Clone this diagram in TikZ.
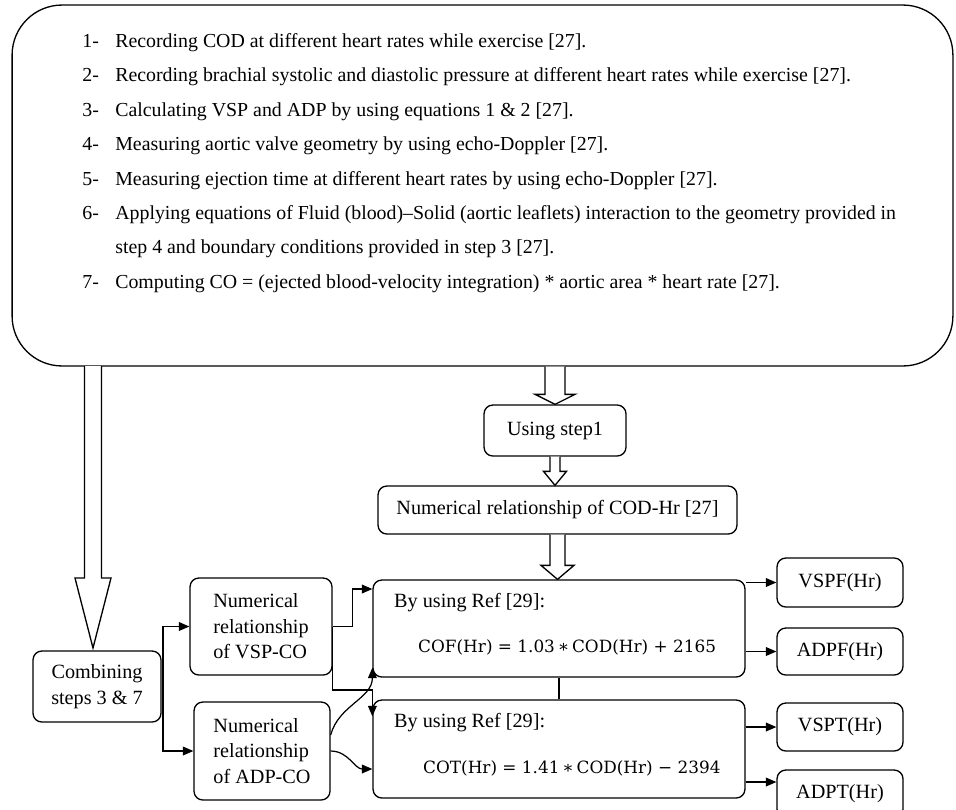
\documentclass[tikz,border=0pt]{standalone}
\usepackage{fontspec}
\setmainfont{Liberation Serif}
\newfontfamily\eqfont{DejaVu Serif}
\usetikzlibrary{arrows.meta,calc}

% hollow block arrow: start, tip, shaft half width, head half width, head length
\newcommand{\hollowarrow}[5]{%
  \draw[line width=0.75pt, fill=white]
    ($#1+(-#3,0)$) -- ($#2+(-#3,-#5)$) -- ($#2+(-#4,-#5)$) -- #2
    -- ($#2+(#4,-#5)$) -- ($#2+(#3,-#5)$) -- ($#1+(#3,0)$);}

\begin{document}
\begin{tikzpicture}[x=0.02cm, y=-0.02cm,
    box/.style={draw, line width=0.75pt, rounded corners=5pt, align=center,
      font=\fontsize{11.5}{14.5}\selectfont},
    arr/.style={-{Triangle[length=6pt,width=5pt]}, line width=0.7pt}]
  \useasboundingbox (0,0) rectangle (956,809);

  % the seven steps
  \node[draw, line width=0.75pt, rounded corners=1cm, minimum width=18.82cm,
    minimum height=7.22cm] (steps) at (482.5,185.5) {};
  \node[anchor=north west, inner sep=0, align=left,
    font=\fontsize{11.3}{19.6}\selectfont] (list) at (82,33) {%
    \makebox[0.66cm][l]{1-}Recording COD at different heart rates while exercise [27].\\
    \makebox[0.66cm][l]{2-}Recording brachial systolic and diastolic pressure at different heart rates while exercise [27].\\
    \makebox[0.66cm][l]{3-}Calculating VSP and ADP by using equations 1 \& 2 [27].\\
    \makebox[0.66cm][l]{4-}Measuring aortic valve geometry by using echo-Doppler [27].\\
    \makebox[0.66cm][l]{5-}Measuring ejection time at different heart rates by using echo-Doppler [27].\\
    \makebox[0.66cm][l]{6-}Applying equations of Fluid (blood)--Solid (aortic leaflets) interaction to the geometry provided in\\
    \hspace*{0.66cm}step 4 and boundary conditions provided in step 3 [27].\\
    \makebox[0.66cm][l]{7-}Computing CO = (ejected blood-velocity integration) * aortic area * heart rate [27].};

  % middle column
  \node[box, minimum width=2.84cm, minimum height=1.02cm] (use) at (555,430.5) {Using step1};
  \node[box, minimum width=7.18cm, minimum height=0.96cm] (cod) at (557.5,510) {Numerical relationship of COD-Hr [27]};
  \node[box, minimum width=7.44cm, minimum height=1.94cm] (boxF) at (559,628.5) {};
  \node[box, minimum width=7.44cm, minimum height=1.96cm] (boxT) at (559,749) {};
  \node[anchor=west, font=\fontsize{11.5}{14}\selectfont] (fref) at (388,603) {By using Ref [29]:};
  \node[anchor=west, font=\eqfont\fontsize{9.6}{11}\selectfont] (feq) at (412,647)
    {COF(Hr)\ =\ 1.03\,∗\,COD(Hr)\ +\ 2165};
  \node[anchor=west, font=\fontsize{11.5}{14}\selectfont] (tref) at (388,723) {By using Ref [29]:};
  \node[anchor=west, font=\eqfont\fontsize{9.6}{11}\selectfont] (teq) at (417,768)
    {COT(Hr)\ =\ 1.41\,∗\,COD(Hr)\ −\ 2394};

  % left column
  \node[box, minimum width=2.56cm, minimum height=1.42cm] (comb) at (97,686.5) {Combining\\steps 3 \& 7};
  \node[box, align=left, minimum width=2.84cm, minimum height=1.94cm] (vsp) at (261,626.5) {Numerical\\relationship\\of VSP-CO};
  \node[box, align=left, minimum width=2.72cm, minimum height=1.96cm] (adp) at (262,751) {Numerical\\relationship\\of ADP-CO};

  % outputs
  \node[box, minimum width=2.52cm, minimum height=0.98cm] (vspf) at (840,582.5) {VSPF(Hr)};
  \node[box, minimum width=2.52cm, minimum height=0.94cm] (adpf) at (840,651.5) {ADPF(Hr)};
  \node[box, minimum width=2.52cm, minimum height=0.96cm] (vspt) at (840,727) {VSPT(Hr)};
  \node[box, minimum width=2.52cm, minimum height=0.96cm] (adpt) at (840,794) {ADPT(Hr)};

  % block arrows
  \hollowarrow{(use.north |- steps.south)}{(use.north)}{10}{20}{10}
  \hollowarrow{(use.south)}{(use.south |- cod.north)}{5}{11.5}{14}
  \hollowarrow{(cod.south)}{(cod.south |- boxF.north)}{7.5}{16.5}{14}
  \hollowarrow{(93,366)}{(93,648)}{8.5}{18}{70}

  % connectors
  \coordinate (split) at (163,686.5);
  \draw[line width=0.7pt] (comb.east) -- (split);
  \draw[arr] (split) |- (vsp.west);
  \draw[arr] (split) |- (adp.west);
  \draw[arr] (vsp.east) -- ++(20,0) |- ([yshift=0.79cm]boxF.west);
  \draw[arr] (vsp.east) -- ++(0,63.5) -| ([yshift=-0.34cm]boxT.north west);
  \draw[arr] ([yshift=0.32cm]adp.east) to[out=75,in=-90] ([yshift=0.2cm]boxF.south west);
  \draw[arr] (adp.east) to[out=0,in=180] ([yshift=-0.4cm]boxT.west);
  \draw[line width=0.7pt] (boxF.south) -- (boxT.north);
  \coordinate (adptin) at ([yshift=0.24cm]adpt.west);
  \draw[arr] (boxF.east |- vspf.west) -- (vspf.west);
  \draw[arr] (boxF.east |- adpf.west) -- (adpf.west);
  \draw[arr] (boxT.east |- vspt.west) -- (vspt.west);
  \draw[arr] (boxT.east |- adptin) -- (adptin);
\end{tikzpicture}
\end{document}
